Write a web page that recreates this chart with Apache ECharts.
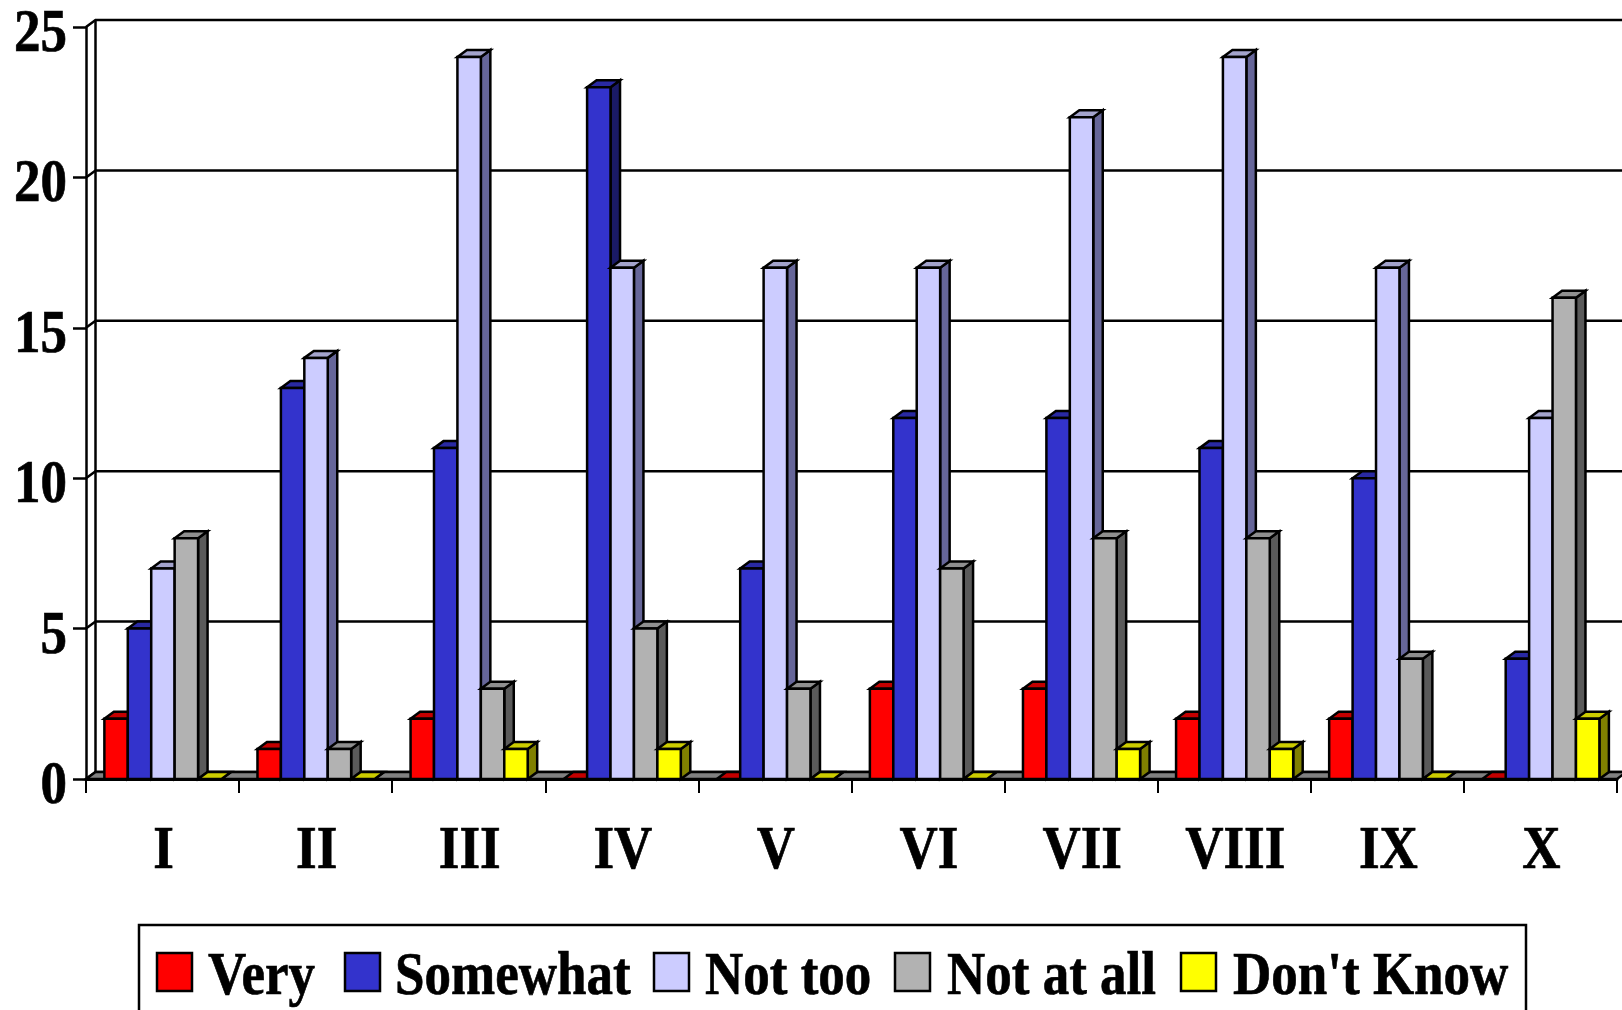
<!DOCTYPE html>
<html><head><meta charset="utf-8">
<style>html,body{margin:0;padding:0;background:#fff}#c{width:1622px;height:1010px}</style>
<script src="https://cdn.jsdelivr.net/npm/echarts@6/dist/echarts.min.js"></script>
</head><body><div id="c"></div>
<script>
var categories = ['I','II','III','IV','V','VI','VII','VIII','IX','X'];
var yTicks = [0,5,10,15,20,25];
var seriesNames = ['Very','Somewhat','Not too','Not at all',"Don't Know"];
var very     = [2,1,2,0,0,3,3,2,2,0];
var somewhat = [5,13,11,23,7,12,12,11,10,4];
var notToo   = [7,14,24,17,17,17,22,24,17,12];
var notAtAll = [8,1,3,5,3,7,8,8,4,16];
var dontKnow = [0,0,1,1,0,0,1,1,0,2];
var seriesValues = [very,somewhat,notToo,notAtAll,dontKnow];
var colors = [
  {f:'#FF0000',t:'#C40000',s:'#800000'},
  {f:'#3333CC',t:'#2929A3',s:'#1A1A66'},
  {f:'#CCCCFF',t:'#A3A3CC',s:'#666699'},
  {f:'#B2B2B2',t:'#8F8F8F',s:'#5A5A5A'},
  {f:'#FFFF00',t:'#CCCC00',s:'#808000'}
];
var DX=9.5, DY=7, WALLX=9.5, WALLY=7, LW=2.5;
var FONT='bold 53px "Liberation Serif","Times New Roman",serif', SY=1.17, TS=0.6;
var lineStyle={stroke:'#000',lineWidth:LW,fill:null};

function poly(points,fill){return {type:'polygon',shape:{points:points},style:{fill:fill,stroke:'#000',lineWidth:LW,lineJoin:'miter'}};}

function barSeries(idx){
  return {type:'custom',name:seriesNames[idx],z:5,silent:true,
    data:seriesValues[idx].map(function(v,i){return [i,v];}),
    encode:{x:0,y:1},
    renderItem:function(p,api){
      var top=api.coord([api.value(0),api.value(1)]), base=api.coord([api.value(0),0]);
      var band=api.size([1,0])[0];
      var w=band*0.153, l=base[0]-band/2+band*0.12+idx*w, r=l+w, c=colors[idx];
      var ch=[
        poly([[r,top[1]],[r+DX,top[1]-DY],[r+DX,base[1]-DY],[r,base[1]]],c.s),
        poly([[l,top[1]],[l+DX,top[1]-DY],[r+DX,top[1]-DY],[r,top[1]]],c.t)
      ];
      if(api.value(1)>0) ch.push({type:'rect',shape:{x:l,y:top[1],width:w,height:base[1]-top[1]},style:{fill:c.f,stroke:'#000',lineWidth:LW}});
      return {type:'group',children:ch};
    }};
}

var wallSeries={type:'custom',z:1,silent:true,data:yTicks.map(function(v){return [0,v];}),encode:{x:0,y:1},
  renderItem:function(p,api){
    var a=api.coord([0,api.value(1)]), band=api.size([1,0])[0], x=a[0]-band/2, y=a[1];
    return {type:'polyline',shape:{points:[[x,y],[x+WALLX,y-WALLY],[api.getWidth(),y-WALLY]]},style:lineStyle};
  }};
var backLineSeries={type:'custom',z:1,silent:true,data:[[0,0,25]],encode:{x:0,y:1},
  renderItem:function(p,api){
    var a=api.coord([0,api.value(1)]), b=api.coord([0,api.value(2)]), band=api.size([1,0])[0], x=a[0]-band/2+WALLX;
    return {type:'line',shape:{x1:x,y1:a[1]-WALLY,x2:x,y2:b[1]-WALLY},style:lineStyle};
  }};
var floorSeries={type:'custom',z:2,silent:true,data:[[0,0]],encode:{x:0,y:1},
  renderItem:function(p,api){
    var a=api.coord([0,0]), band=api.size([1,0])[0], x=a[0]-band/2, y=a[1], x2=x+band*categories.length;
    return poly([[x,y],[x+WALLX,y-WALLY],[x2+WALLX,y-WALLY],[x2,y]],'#808080');
  }};
function txt(x,y,s,align){return {type:'text',x:x,y:y,scaleY:SY,style:{x:0,y:0,text:s,font:FONT,fill:'#000',stroke:'#000',lineWidth:TS,textAlign:align,textVerticalAlign:'middle'}};}
var xLabelSeries={type:'custom',z:6,silent:true,data:categories.map(function(c,i){return [i,0];}),encode:{x:0,y:1},
  renderItem:function(p,api){
    var a=api.coord([api.value(0),0]);
    return txt(a[0]+1,a[1]+73,categories[api.value(0)],'center');
  }};
var yLabelSeries={type:'custom',z:6,silent:true,data:yTicks.map(function(v){return [0,v];}),encode:{x:0,y:1},
  renderItem:function(p,api){
    var a=api.coord([0,api.value(1)]), band=api.size([1,0])[0];
    return txt(a[0]-band/2-19,a[1]+8,String(api.value(1)),'right');
  }};

var legendSwatchX=[157,345,654,895,1181];
var legendTextX=[208,395,705,947,1233];
var legendEls=[{type:'rect',shape:{x:139,y:925,width:1387,height:100},style:{fill:'#fff',stroke:'#000',lineWidth:2.5},z:10}];
seriesNames.forEach(function(n,i){
  legendEls.push({type:'rect',shape:{x:legendSwatchX[i],y:953,width:35,height:38},style:{fill:colors[i].f,stroke:'#000',lineWidth:LW},z:11});
  legendEls.push({type:'text',x:legendTextX[i],y:978,scaleY:SY,z:11,style:{x:0,y:0,text:n,font:FONT,fill:'#000',stroke:'#000',lineWidth:TS,textAlign:'left',textVerticalAlign:'middle'}});
});

var chart=echarts.init(document.getElementById('c'),null,{renderer:'canvas'});
chart.setOption({
  animation:false,backgroundColor:'#fff',
  grid:{left:86,right:5,top:27,bottom:231,containLabel:false},
  xAxis:{type:'category',data:categories,boundaryGap:true,z:4,
    axisLine:{show:true,lineStyle:{color:'#000',width:3}},
    axisTick:{show:true,length:14,alignWithLabel:false,lineStyle:{color:'#000',width:2}},
    axisLabel:{show:false},splitLine:{show:false}},
  yAxis:{type:'value',min:0,max:25,interval:5,z:4,
    axisLine:{show:true,lineStyle:{color:'#000',width:2.5}},
    axisTick:{show:true,length:13,lineStyle:{color:'#000',width:2.5}},
    axisLabel:{show:false},splitLine:{show:false}},
  graphic:{elements:legendEls},
  series:[wallSeries,backLineSeries,floorSeries].concat(seriesNames.map(function(n,i){return barSeries(i);})).concat([xLabelSeries,yLabelSeries])
});
</script></body></html>
